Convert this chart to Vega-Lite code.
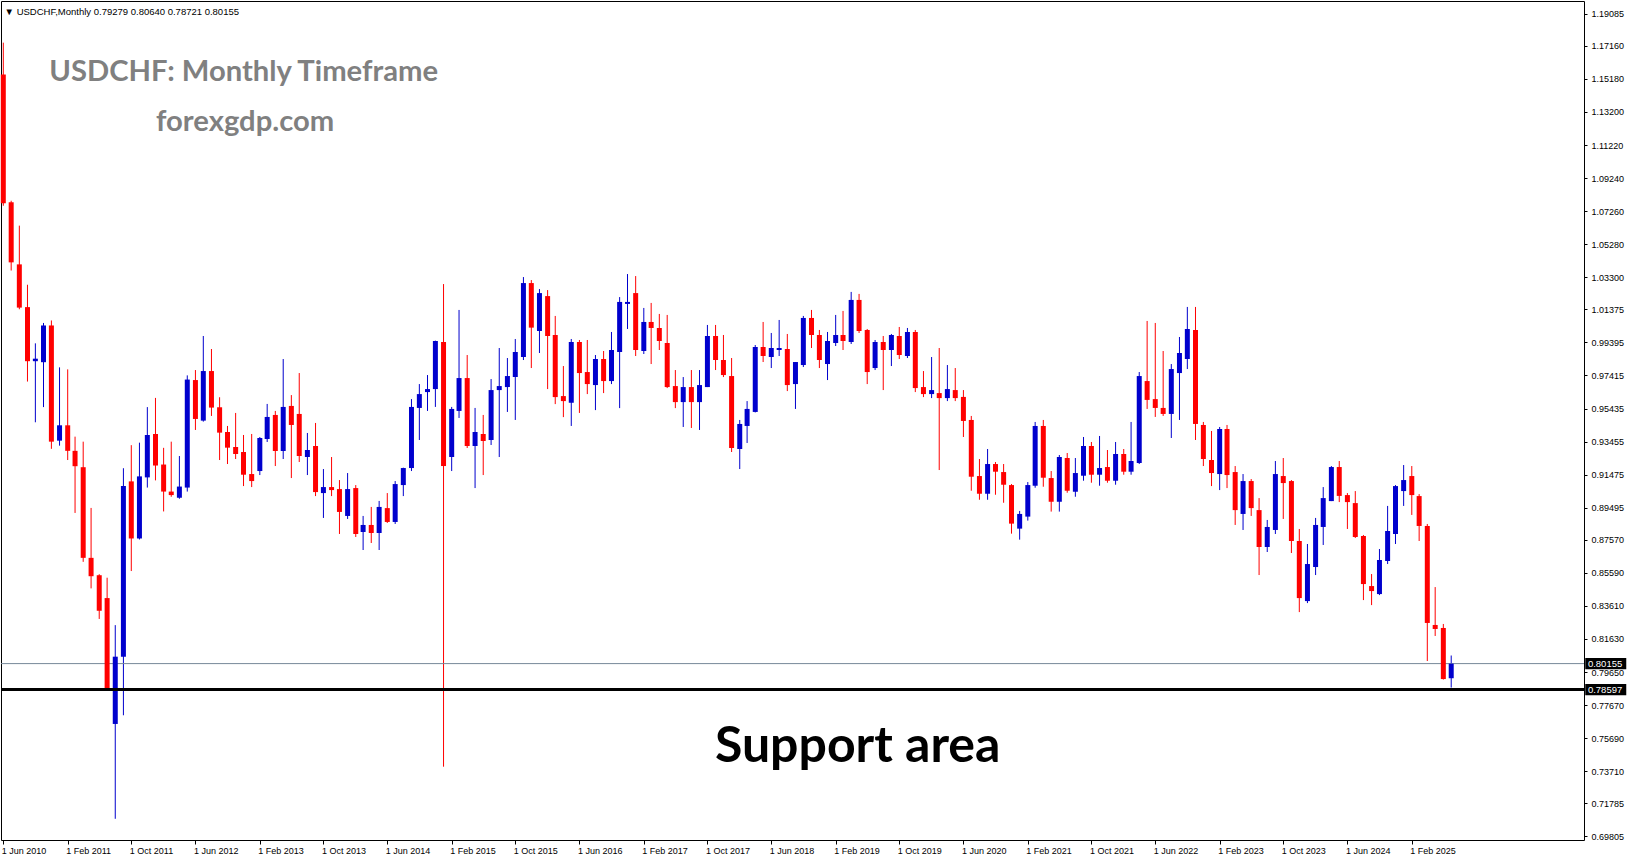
{
"$schema": "https://vega.github.io/schema/vega-lite/v6.json",
"autosize": {"type": "none"},
"padding": {"left": 1, "top": 1, "right": 47, "bottom": 21},
"width": 1583,
"height": 839,
"background": "white",
"config": {
"view": {"stroke": "#000000", "strokeWidth": 1},
"scale": {"continuousPadding": 0},
"axisX": {"labelAlign": "left", "labelOffset": -2, "labelFont": "Liberation Sans", "labelFontSize": 9, "labelColor": "#000000", "tickColor": "#000000", "tickSize": 4, "labelPadding": 2, "grid": false, "domain": false, "title": null, "labelOverlap": false, "labelFlush": false, "labelBound": false},
"axisY": {"labelFont": "Liberation Sans", "labelFontSize": 9, "labelColor": "#000000", "tickColor": "#000000", "tickSize": 3, "labelPadding": 4, "grid": false, "domain": false, "title": null, "labelOverlap": false, "labelFlush": false, "labelBound": false}
},
"datasets": {
"ohlc": [
{"d":"2010-06-01","o":1.1545,"h":1.1735,"l":1.0758,"c":1.0773},
{"d":"2010-07-01","o":1.0779,"h":1.0788,"l":1.0370,"c":1.0419},
{"d":"2010-08-01","o":1.0407,"h":1.0639,"l":1.0138,"c":1.0148},
{"d":"2010-09-01","o":1.0151,"h":1.0285,"l":0.9705,"c":0.9827},
{"d":"2010-10-01","o":0.9827,"h":0.9934,"l":0.9461,"c":0.9842},
{"d":"2010-11-01","o":0.9821,"h":1.0056,"l":0.9552,"c":1.0041},
{"d":"2010-12-01","o":1.0041,"h":1.0071,"l":0.9302,"c":0.9345},
{"d":"2011-01-01","o":0.9351,"h":0.9790,"l":0.9321,"c":0.9443},
{"d":"2011-02-01","o":0.9443,"h":0.9778,"l":0.9235,"c":0.9290},
{"d":"2011-03-01","o":0.9290,"h":0.9375,"l":0.8918,"c":0.9198},
{"d":"2011-04-01","o":0.9192,"h":0.9345,"l":0.8625,"c":0.8649},
{"d":"2011-05-01","o":0.8649,"h":0.8948,"l":0.8466,"c":0.8539},
{"d":"2011-06-01","o":0.8545,"h":0.8551,"l":0.8283,"c":0.8332},
{"d":"2011-07-01","o":0.8408,"h":0.8530,"l":0.7862,"c":0.7868},
{"d":"2011-08-01","o":0.7654,"h":0.8246,"l":0.7086,"c":0.8057},
{"d":"2011-09-01","o":0.8057,"h":0.9186,"l":0.7706,"c":0.9079},
{"d":"2011-10-01","o":0.9107,"h":0.9324,"l":0.8570,"c":0.8765},
{"d":"2011-11-01","o":0.8765,"h":0.9339,"l":0.8759,"c":0.9137},
{"d":"2011-12-01","o":0.9131,"h":0.9552,"l":0.9070,"c":0.9385},
{"d":"2012-01-01","o":0.9391,"h":0.9607,"l":0.9113,"c":0.9202},
{"d":"2012-02-01","o":0.9208,"h":0.9308,"l":0.8927,"c":0.9046},
{"d":"2012-03-01","o":0.9046,"h":0.9345,"l":0.9015,"c":0.9025},
{"d":"2012-04-01","o":0.9009,"h":0.9259,"l":0.9003,"c":0.9076},
{"d":"2012-05-01","o":0.9070,"h":0.9742,"l":0.9046,"c":0.9717},
{"d":"2012-06-01","o":0.9714,"h":0.9774,"l":0.9415,"c":0.9481},
{"d":"2012-07-01","o":0.9471,"h":0.9978,"l":0.9465,"c":0.9768},
{"d":"2012-08-01","o":0.9768,"h":0.9900,"l":0.9499,"c":0.9549},
{"d":"2012-09-01","o":0.9551,"h":0.9611,"l":0.9235,"c":0.9399},
{"d":"2012-10-01","o":0.9403,"h":0.9439,"l":0.9211,"c":0.9309},
{"d":"2012-11-01","o":0.9313,"h":0.9517,"l":0.9241,"c":0.9271},
{"d":"2012-12-01","o":0.9283,"h":0.9385,"l":0.9079,"c":0.9147},
{"d":"2013-01-01","o":0.9151,"h":0.9391,"l":0.9073,"c":0.9109},
{"d":"2013-02-01","o":0.9169,"h":0.9373,"l":0.9145,"c":0.9367},
{"d":"2013-03-01","o":0.9361,"h":0.9571,"l":0.9343,"c":0.9493},
{"d":"2013-04-01","o":0.9505,"h":0.9529,"l":0.9199,"c":0.9289},
{"d":"2013-05-01","o":0.9289,"h":0.9840,"l":0.9241,"c":0.9553},
{"d":"2013-06-01","o":0.9559,"h":0.9624,"l":0.9127,"c":0.9445},
{"d":"2013-07-01","o":0.9511,"h":0.9756,"l":0.9223,"c":0.9259},
{"d":"2013-08-01","o":0.9253,"h":0.9397,"l":0.9145,"c":0.9295},
{"d":"2013-09-01","o":0.9319,"h":0.9457,"l":0.9019,"c":0.9043},
{"d":"2013-10-01","o":0.9037,"h":0.9181,"l":0.8888,"c":0.9073},
{"d":"2013-11-01","o":0.9073,"h":0.9253,"l":0.9019,"c":0.9055},
{"d":"2013-12-01","o":0.9061,"h":0.9115,"l":0.8792,"c":0.8924},
{"d":"2014-01-01","o":0.8900,"h":0.9157,"l":0.8882,"c":0.9061},
{"d":"2014-02-01","o":0.9067,"h":0.9085,"l":0.8774,"c":0.8792},
{"d":"2014-03-01","o":0.8804,"h":0.8900,"l":0.8696,"c":0.8846},
{"d":"2014-04-01","o":0.8846,"h":0.8954,"l":0.8738,"c":0.8798},
{"d":"2014-05-01","o":0.8798,"h":0.8990,"l":0.8696,"c":0.8954},
{"d":"2014-06-01","o":0.8947,"h":0.9037,"l":0.8858,"c":0.8864},
{"d":"2014-07-01","o":0.8864,"h":0.9109,"l":0.8852,"c":0.9091},
{"d":"2014-08-01","o":0.9085,"h":0.9189,"l":0.9019,"c":0.9187},
{"d":"2014-09-01","o":0.9187,"h":0.9600,"l":0.9169,"c":0.9553},
{"d":"2014-10-01","o":0.9547,"h":0.9690,"l":0.9355,"c":0.9630},
{"d":"2014-11-01","o":0.9642,"h":0.9744,"l":0.9529,"c":0.9660},
{"d":"2014-12-01","o":0.9660,"h":0.9950,"l":0.9553,"c":0.9948},
{"d":"2015-01-01","o":0.9942,"h":1.0289,"l":0.7398,"c":0.9199},
{"d":"2015-02-01","o":0.9253,"h":0.9553,"l":0.9169,"c":0.9541},
{"d":"2015-03-01","o":0.9529,"h":1.0134,"l":0.9487,"c":0.9726},
{"d":"2015-04-01","o":0.9726,"h":0.9864,"l":0.9307,"c":0.9319},
{"d":"2015-05-01","o":0.9319,"h":0.9547,"l":0.9067,"c":0.9403},
{"d":"2015-06-01","o":0.9391,"h":0.9505,"l":0.9145,"c":0.9349},
{"d":"2015-07-01","o":0.9355,"h":0.9720,"l":0.9325,"c":0.9654},
{"d":"2015-08-01","o":0.9654,"h":0.9906,"l":0.9253,"c":0.9678},
{"d":"2015-09-01","o":0.9672,"h":0.9846,"l":0.9523,"c":0.9738},
{"d":"2015-10-01","o":0.9732,"h":0.9960,"l":0.9475,"c":0.9882},
{"d":"2015-11-01","o":0.9852,"h":1.0331,"l":0.9834,"c":1.0295},
{"d":"2015-12-01","o":1.0295,"h":1.0313,"l":0.9786,"c":1.0028},
{"d":"2016-01-01","o":1.0008,"h":1.0259,"l":0.9876,"c":1.0235},
{"d":"2016-02-01","o":1.0217,"h":1.0253,"l":0.9660,"c":0.9978},
{"d":"2016-03-01","o":0.9984,"h":1.0098,"l":0.9570,"c":0.9612},
{"d":"2016-04-01","o":0.9618,"h":0.9798,"l":0.9492,"c":0.9588},
{"d":"2016-05-01","o":0.9578,"h":0.9960,"l":0.9439,"c":0.9942},
{"d":"2016-06-01","o":0.9942,"h":0.9954,"l":0.9517,"c":0.9756},
{"d":"2016-07-01","o":0.9762,"h":0.9954,"l":0.9630,"c":0.9690},
{"d":"2016-08-01","o":0.9684,"h":0.9864,"l":0.9534,"c":0.9840},
{"d":"2016-09-01","o":0.9840,"h":0.9888,"l":0.9636,"c":0.9708},
{"d":"2016-10-01","o":0.9708,"h":1.0002,"l":0.9690,"c":0.9894},
{"d":"2016-11-01","o":0.9882,"h":1.0211,"l":0.9546,"c":1.0182},
{"d":"2016-12-01","o":1.0170,"h":1.0349,"l":1.0020,"c":1.0182},
{"d":"2017-01-01","o":1.0235,"h":1.0337,"l":0.9858,"c":0.9894},
{"d":"2017-02-01","o":0.9888,"h":1.0146,"l":0.9870,"c":1.0062},
{"d":"2017-03-01","o":1.0062,"h":1.0176,"l":0.9810,"c":1.0026},
{"d":"2017-04-01","o":1.0026,"h":1.0110,"l":0.9894,"c":0.9948},
{"d":"2017-05-01","o":0.9936,"h":1.0104,"l":0.9666,"c":0.9672},
{"d":"2017-06-01","o":0.9678,"h":0.9774,"l":0.9546,"c":0.9582},
{"d":"2017-07-01","o":0.9582,"h":0.9732,"l":0.9433,"c":0.9672},
{"d":"2017-08-01","o":0.9672,"h":0.9774,"l":0.9427,"c":0.9582},
{"d":"2017-09-01","o":0.9582,"h":0.9774,"l":0.9415,"c":0.9684},
{"d":"2017-10-01","o":0.9672,"h":1.0044,"l":0.9672,"c":0.9978},
{"d":"2017-11-01","o":0.9978,"h":1.0044,"l":0.9774,"c":0.9834},
{"d":"2017-12-01","o":0.9834,"h":0.9984,"l":0.9732,"c":0.9744},
{"d":"2018-01-01","o":0.9738,"h":0.9846,"l":0.9283,"c":0.9307},
{"d":"2018-02-01","o":0.9301,"h":0.9475,"l":0.9181,"c":0.9451},
{"d":"2018-03-01","o":0.9439,"h":0.9588,"l":0.9337,"c":0.9541},
{"d":"2018-04-01","o":0.9523,"h":0.9924,"l":0.9520,"c":0.9912},
{"d":"2018-05-01","o":0.9912,"h":1.0062,"l":0.9822,"c":0.9858},
{"d":"2018-06-01","o":0.9852,"h":0.9996,"l":0.9786,"c":0.9906},
{"d":"2018-07-01","o":0.9894,"h":1.0074,"l":0.9858,"c":0.9906},
{"d":"2018-08-01","o":0.9900,"h":0.9990,"l":0.9648,"c":0.9684},
{"d":"2018-09-01","o":0.9690,"h":0.9822,"l":0.9541,"c":0.9822},
{"d":"2018-10-01","o":0.9804,"h":1.0098,"l":0.9792,"c":1.0086},
{"d":"2018-11-01","o":1.0086,"h":1.0134,"l":0.9906,"c":0.9984},
{"d":"2018-12-01","o":0.9984,"h":1.0014,"l":0.9786,"c":0.9834},
{"d":"2019-01-01","o":0.9810,"h":1.0002,"l":0.9714,"c":0.9948},
{"d":"2019-02-01","o":0.9936,"h":1.0104,"l":0.9918,"c":0.9984},
{"d":"2019-03-01","o":0.9984,"h":1.0128,"l":0.9894,"c":0.9948},
{"d":"2019-04-01","o":0.9942,"h":1.0242,"l":0.9930,"c":1.0194},
{"d":"2019-05-01","o":1.0194,"h":1.0230,"l":0.9996,"c":1.0008},
{"d":"2019-06-01","o":1.0014,"h":1.0020,"l":0.9690,"c":0.9762},
{"d":"2019-07-01","o":0.9786,"h":0.9954,"l":0.9774,"c":0.9942},
{"d":"2019-08-01","o":0.9942,"h":0.9978,"l":0.9654,"c":0.9894},
{"d":"2019-09-01","o":0.9894,"h":0.9990,"l":0.9798,"c":0.9984},
{"d":"2019-10-01","o":0.9978,"h":1.0032,"l":0.9840,"c":0.9864},
{"d":"2019-11-01","o":0.9858,"h":1.0026,"l":0.9846,"c":1.0002},
{"d":"2019-12-01","o":1.0002,"h":1.0014,"l":0.9642,"c":0.9666},
{"d":"2020-01-01","o":0.9672,"h":0.9768,"l":0.9612,"c":0.9630},
{"d":"2020-02-01","o":0.9630,"h":0.9852,"l":0.9606,"c":0.9654},
{"d":"2020-03-01","o":0.9636,"h":0.9906,"l":0.9175,"c":0.9606},
{"d":"2020-04-01","o":0.9606,"h":0.9804,"l":0.9588,"c":0.9660},
{"d":"2020-05-01","o":0.9654,"h":0.9786,"l":0.9588,"c":0.9606},
{"d":"2020-06-01","o":0.9613,"h":0.9654,"l":0.9373,"c":0.9469},
{"d":"2020-07-01","o":0.9475,"h":0.9499,"l":0.9051,"c":0.9135},
{"d":"2020-08-01","o":0.9139,"h":0.9241,"l":0.8997,"c":0.9033},
{"d":"2020-09-01","o":0.9033,"h":0.9301,"l":0.8997,"c":0.9211},
{"d":"2020-10-01","o":0.9211,"h":0.9223,"l":0.9027,"c":0.9165},
{"d":"2020-11-01","o":0.9163,"h":0.9211,"l":0.8979,"c":0.9087},
{"d":"2020-12-01","o":0.9085,"h":0.9091,"l":0.8794,"c":0.8854},
{"d":"2021-01-01","o":0.8824,"h":0.8930,"l":0.8758,"c":0.8912},
{"d":"2021-02-01","o":0.8896,"h":0.9103,"l":0.8872,"c":0.9085},
{"d":"2021-03-01","o":0.9081,"h":0.9463,"l":0.9069,"c":0.9439},
{"d":"2021-04-01","o":0.9439,"h":0.9475,"l":0.9075,"c":0.9129},
{"d":"2021-05-01","o":0.9127,"h":0.9169,"l":0.8926,"c":0.8985},
{"d":"2021-06-01","o":0.8985,"h":0.9265,"l":0.8926,"c":0.9253},
{"d":"2021-07-01","o":0.9247,"h":0.9277,"l":0.9039,"c":0.9051},
{"d":"2021-08-01","o":0.9045,"h":0.9247,"l":0.9015,"c":0.9157},
{"d":"2021-09-01","o":0.9141,"h":0.9373,"l":0.9111,"c":0.9319},
{"d":"2021-10-01","o":0.9319,"h":0.9343,"l":0.9099,"c":0.9147},
{"d":"2021-11-01","o":0.9147,"h":0.9379,"l":0.9081,"c":0.9187},
{"d":"2021-12-01","o":0.9193,"h":0.9295,"l":0.9099,"c":0.9111},
{"d":"2022-01-01","o":0.9111,"h":0.9343,"l":0.9087,"c":0.9271},
{"d":"2022-02-01","o":0.9271,"h":0.9301,"l":0.9147,"c":0.9165},
{"d":"2022-03-01","o":0.9165,"h":0.9463,"l":0.9147,"c":0.9229},
{"d":"2022-04-01","o":0.9217,"h":0.9762,"l":0.9211,"c":0.9738},
{"d":"2022-05-01","o":0.9708,"h":1.0068,"l":0.9541,"c":0.9595},
{"d":"2022-06-01","o":0.9600,"h":1.0056,"l":0.9493,"c":0.9547},
{"d":"2022-07-01","o":0.9547,"h":0.9888,"l":0.9499,"c":0.9511},
{"d":"2022-08-01","o":0.9511,"h":0.9810,"l":0.9367,"c":0.9780},
{"d":"2022-09-01","o":0.9756,"h":0.9972,"l":0.9475,"c":0.9876},
{"d":"2022-10-01","o":0.9840,"h":1.0152,"l":0.9780,"c":1.0020},
{"d":"2022-11-01","o":1.0014,"h":1.0152,"l":0.9355,"c":0.9451},
{"d":"2022-12-01","o":0.9445,"h":0.9463,"l":0.9199,"c":0.9241},
{"d":"2023-01-01","o":0.9235,"h":0.9409,"l":0.9079,"c":0.9157},
{"d":"2023-02-01","o":0.9151,"h":0.9433,"l":0.9055,"c":0.9421},
{"d":"2023-03-01","o":0.9421,"h":0.9445,"l":0.9067,"c":0.9145},
{"d":"2023-04-01","o":0.9163,"h":0.9199,"l":0.8846,"c":0.8935},
{"d":"2023-05-01","o":0.8912,"h":0.9151,"l":0.8816,"c":0.9109},
{"d":"2023-06-01","o":0.9109,"h":0.9121,"l":0.8900,"c":0.8947},
{"d":"2023-07-01","o":0.8935,"h":0.9007,"l":0.8546,"c":0.8714},
{"d":"2023-08-01","o":0.8714,"h":0.8876,"l":0.8684,"c":0.8834},
{"d":"2023-09-01","o":0.8816,"h":0.9229,"l":0.8792,"c":0.9151},
{"d":"2023-10-01","o":0.9139,"h":0.9247,"l":0.8882,"c":0.9097},
{"d":"2023-11-01","o":0.9109,"h":0.9115,"l":0.8678,"c":0.8750},
{"d":"2023-12-01","o":0.8750,"h":0.8822,"l":0.8324,"c":0.8408},
{"d":"2024-01-01","o":0.8390,"h":0.8732,"l":0.8378,"c":0.8612},
{"d":"2024-02-01","o":0.8594,"h":0.8888,"l":0.8546,"c":0.8846},
{"d":"2024-03-01","o":0.8834,"h":0.9073,"l":0.8726,"c":0.9007},
{"d":"2024-04-01","o":0.8989,"h":0.9199,"l":0.8989,"c":0.9193},
{"d":"2024-05-01","o":0.9193,"h":0.9229,"l":0.8983,"c":0.9020},
{"d":"2024-06-01","o":0.9025,"h":0.9037,"l":0.8822,"c":0.8983},
{"d":"2024-07-01","o":0.8977,"h":0.9049,"l":0.8768,"c":0.8774},
{"d":"2024-08-01","o":0.8780,"h":0.8786,"l":0.8396,"c":0.8492},
{"d":"2024-09-01","o":0.8480,"h":0.8552,"l":0.8366,"c":0.8450},
{"d":"2024-10-01","o":0.8432,"h":0.8702,"l":0.8426,"c":0.8636},
{"d":"2024-11-01","o":0.8630,"h":0.8960,"l":0.8612,"c":0.8810},
{"d":"2024-12-01","o":0.8792,"h":0.9085,"l":0.8732,"c":0.9079},
{"d":"2025-01-01","o":0.9049,"h":0.9205,"l":0.8960,"c":0.9115},
{"d":"2025-02-01","o":0.9139,"h":0.9199,"l":0.8906,"c":0.9025},
{"d":"2025-03-01","o":0.9019,"h":0.9031,"l":0.8750,"c":0.8840},
{"d":"2025-04-01","o":0.8840,"h":0.8852,"l":0.8031,"c":0.8259},
{"d":"2025-05-01","o":0.8247,"h":0.8474,"l":0.8181,"c":0.8223},
{"d":"2025-06-01","o":0.8229,"h":0.8253,"l":0.7920,"c":0.7923},
{"d":"2025-07-01","o":0.79279,"h":0.80640,"l":0.78721,"c":0.80155}
],
"levels": [
{"p":0.80155,"t":"0.80155"},
{"p":0.78597,"t":"0.78597"}
],
"one": [{}]
},
"layer": [
{
"data": {"name": "ohlc"},
"mark": {"type": "rule", "strokeWidth": 1},
"encoding": {
"x": {"field": "d", "type": "temporal",
"scale": {"type": "utc", "nice": false, "padding": 0, "domain": [{"year":2010,"month":5,"date":23,"hours":6,"utc":true},{"year":2026,"month":11,"date":18,"hours":5,"utc":true}]},
"axis": {
"values": [
{"year":2010,"month":6,"date":1,"utc":true},
{"year":2011,"month":2,"date":1,"utc":true},
{"year":2011,"month":10,"date":1,"utc":true},
{"year":2012,"month":6,"date":1,"utc":true},
{"year":2013,"month":2,"date":1,"utc":true},
{"year":2013,"month":10,"date":1,"utc":true},
{"year":2014,"month":6,"date":1,"utc":true},
{"year":2015,"month":2,"date":1,"utc":true},
{"year":2015,"month":10,"date":1,"utc":true},
{"year":2016,"month":6,"date":1,"utc":true},
{"year":2017,"month":2,"date":1,"utc":true},
{"year":2017,"month":10,"date":1,"utc":true},
{"year":2018,"month":6,"date":1,"utc":true},
{"year":2019,"month":2,"date":1,"utc":true},
{"year":2019,"month":10,"date":1,"utc":true},
{"year":2020,"month":6,"date":1,"utc":true},
{"year":2021,"month":2,"date":1,"utc":true},
{"year":2021,"month":10,"date":1,"utc":true},
{"year":2022,"month":6,"date":1,"utc":true},
{"year":2023,"month":2,"date":1,"utc":true},
{"year":2023,"month":10,"date":1,"utc":true},
{"year":2024,"month":6,"date":1,"utc":true},
{"year":2025,"month":2,"date":1,"utc":true}
],
"tickCount": 40,
"labelExpr": "utcFormat(datum.value, '%-d %b %Y')",
"title": null
}
},
"y": {"field": "l", "type": "quantitative",
"scale": {"zero": false, "nice": false, "padding": 0, "domain": [0.69589, 1.19846]},
"axis": {
"orient": "right",
"values": [1.19085,1.17160,1.15180,1.13200,1.11220,1.09240,1.07260,1.05280,1.03300,1.01375,0.99395,0.97415,0.95435,0.93455,0.91475,0.89495,0.87570,0.85590,0.83610,0.81630,0.79650,0.77670,0.75690,0.73710,0.71785,0.69805],
"tickCount": 40,
"labelExpr": "format(datum.value, '.5f')",
"labelOverlap": false,
"title": null
}
},
"y2": {"field": "h"},
"color": {"condition": {"test": "datum.c >= datum.o", "value": "#0000CD"}, "value": "#FF0000"}
}
},
{
"data": {"name": "one"},
"mark": {"type": "rule", "color": "#778899", "strokeWidth": 1},
"encoding": {
"y": {"datum": 0.80155, "type": "quantitative"}
}
},
{
"data": {"name": "ohlc"},
"mark": {"type": "bar", "size": 5},
"encoding": {
"x": {"field": "d", "type": "temporal"},
"y": {"field": "o", "type": "quantitative"},
"y2": {"field": "c"},
"color": {"condition": {"test": "datum.c >= datum.o", "value": "#0000CD"}, "value": "#FF0000"}
}
},
{
"data": {"name": "one"},
"mark": {"type": "rule", "color": "#000000", "strokeWidth": 3},
"encoding": {
"y": {"datum": 0.78597, "type": "quantitative"}
}
},
{
"data": {"name": "one"},
"mark": {"type": "text", "align": "left", "baseline": "alphabetic", "font": "Liberation Sans", "fontSize": 9.5, "color": "#000000"},
"encoding": {
"x": {"datum": {"year":2010,"month":6,"date":6,"utc":true}, "type": "temporal"},
"y": {"datum": 1.19007, "type": "quantitative"},
"text": {"value": "▼  USDCHF,Monthly  0.79279 0.80640 0.78721 0.80155"}
}
},
{
"data": {"name": "one"},
"mark": {"type": "text", "align": "left", "baseline": "alphabetic", "font": "Lato", "fontWeight": "bold", "fontSize": 29.2, "color": "#808080"},
"encoding": {
"x": {"datum": {"year":2010,"month":11,"date":23,"utc":true}, "type": "temporal"},
"y": {"datum": 1.15054, "type": "quantitative"},
"text": {"value": "USDCHF: Monthly Timeframe"}
}
},
{
"data": {"name": "one"},
"mark": {"type": "text", "align": "left", "baseline": "alphabetic", "font": "Lato", "fontWeight": "bold", "fontSize": 29.2, "color": "#808080"},
"encoding": {
"x": {"datum": {"year":2012,"month":1,"date":3,"utc":true}, "type": "temporal"},
"y": {"datum": 1.1205, "type": "quantitative"},
"text": {"value": "forexgdp.com"}
}
},
{
"data": {"name": "one"},
"mark": {"type": "text", "align": "center", "baseline": "alphabetic", "font": "Lato", "fontWeight": "bold", "fontSize": 50, "color": "#000000"},
"encoding": {
"x": {"datum": {"year":2019,"month":4,"date":25,"hours":14,"utc":true}, "type": "temporal"},
"y": {"datum": 0.74232, "type": "quantitative"},
"text": {"value": "Support area"}
}
},
{
"data": {"name": "levels"},
"mark": {"type": "point", "shape": "M-1,-0.27H1V0.27H-1Z", "size": 1681, "filled": true, "color": "#000000", "opacity": 1, "strokeWidth": 0},
"encoding": {
"x": {"datum": {"year":2027,"month":2,"date":9,"utc":true}, "type": "temporal"},
"y": {"field": "p", "type": "quantitative"}
}
},
{
"data": {"name": "levels"},
"mark": {"type": "text", "align": "left", "baseline": "middle", "font": "Liberation Sans", "fontSize": 9.5, "color": "#FFFFFF"},
"encoding": {
"x": {"datum": {"year":2026,"month":12,"date":3,"utc":true}, "type": "temporal"},
"y": {"field": "p", "type": "quantitative"},
"text": {"field": "t"}
}
}
]
}
